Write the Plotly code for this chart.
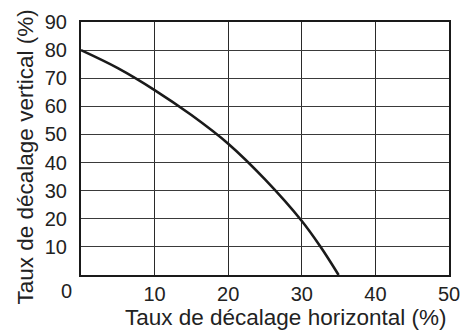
import plotly.graph_objects as go

# Vertical vs horizontal offset rate curve
horizontal = [0, 5, 10, 15, 20, 25, 30, 32.5, 35]
vertical = [80, 73.6, 65.8, 56.9, 46.7, 34, 19.2, 10.2, 0]

x_ticks = [10, 20, 30, 40, 50]
y_ticks = [10, 20, 30, 40, 50, 60, 70, 80, 90]

x_title = "Taux de décalage horizontal (%)"
y_title = "Taux de décalage vertical (%)"

family = "Liberation Sans, Arial, sans-serif"
tick_font = dict(family=family, size=20, color="#222")
title_font = dict(family=family, size=22.5, color="#222")

fig = go.Figure()
fig.add_trace(go.Scatter(
    x=horizontal, y=vertical, mode="lines",
    line=dict(color="#1a1a1a", width=2.6, shape="spline", smoothing=1.0),
    showlegend=False, hoverinfo="skip",
))

fig.update_layout(
    width=471, height=330,
    margin=dict(l=81, r=11, t=18, b=55),
    paper_bgcolor="white", plot_bgcolor="white",
    font=tick_font,
    xaxis=dict(
        range=[0, 50], tickvals=x_ticks, ticks="", ticklabelstandoff=0,
        tickfont=tick_font,
        showgrid=True, gridcolor="#2a2a2a", gridwidth=1,
        showline=True, linecolor="#1a1a1a", linewidth=2, mirror=True,
        zeroline=False, fixedrange=True,
    ),
    yaxis=dict(
        range=[0, 90], tickvals=y_ticks, ticks="", ticklabelstandoff=8,
        tickfont=tick_font,
        showgrid=True, gridcolor="#3a3a3a", gridwidth=1,
        showline=True, linecolor="#1a1a1a", linewidth=2, mirror=True,
        zeroline=False, fixedrange=True,
    ),
)

# Axis titles
fig.add_annotation(
    x=0.5554, y=-0.168, xref="paper", yref="paper", text=x_title,
    showarrow=False, xanchor="center", yanchor="middle", font=title_font,
)
fig.add_annotation(
    x=-0.1504, y=0.467, xref="paper", yref="paper", text=y_title,
    showarrow=False, xanchor="center", yanchor="middle", textangle=-90,
    font=title_font,
)

# Shared origin label in the lower-left corner
fig.add_annotation(
    x=0, y=0, xref="x", yref="y", text="0", showarrow=False,
    xanchor="right", yanchor="top", xshift=-7, yshift=-3, font=tick_font,
)

fig.write_html("out.html")
